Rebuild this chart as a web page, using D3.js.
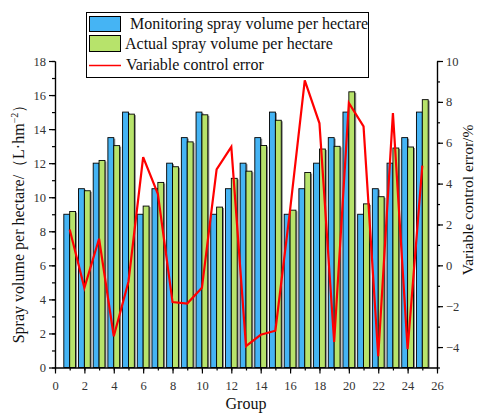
<!DOCTYPE html>
<html><head><meta charset="utf-8">
<script src="https://cdn.jsdelivr.net/npm/d3@7/dist/d3.min.js"></script>
<style>body{margin:0;background:#fff}svg{display:block}
svg text{font-family:"Liberation Serif","Times New Roman",serif !important;}</style>
</head><body>
<svg id="c" width="477" height="413"></svg>
<script>
const groups = d3.range(1, 26);
const monitoring = [9,10.5,12,13.5,15, 9,10.5,12,13.5,15, 9,10.5,12,13.5,15, 9,10.5,12,13.5,15, 9,10.5,12,13.5,15];
const actual = [9.16,10.38,12.16,13.03,14.88, 9.48,10.87,11.79,13.25,14.84, 9.42,11.11,11.53,13.04,14.52, 9.24,11.45,12.83,12.99,16.19, 9.61,10.03,12.89,12.95,15.73];
const errorPct = [1.75,-1.1,1.3,-3.47,-0.8, 5.3,3.5,-1.8,-1.87,-1.1, 4.7,5.8,-3.95,-3.4,-3.2, 2.7,9.05,6.95,-3.75,7.95, 6.8,-4.45,7.45,-4.1,4.88];
const xTicks = d3.range(0, 27, 2);
const yLeftTicks = d3.range(0, 19, 2);
const yRightTicks = d3.range(-4, 11, 2);
const legendLabels = ["Monitoring spray volume per hectare", "Actual spray volume per hectare", "Variable control error"];

const svg = d3.select("#c");
const L = 55, R = 437, T = 61, B = 367.5;
const x = d3.scaleLinear().domain([0, 26]).range([L, R]);
const yL = d3.scaleLinear().domain([0, 18]).range([B, T]);
const yR = d3.scaleLinear().domain([-5, 10]).range([B, T]);
const blue = "#45b4f4", green = "#b7e36b";
const bw = x(0.4) - x(0);

const g = svg.append("g");
g.selectAll(".sb").data(groups).enter().append("rect")
  .attr("x", (d) => x(d - 0.4) + 1.5).attr("y", (d, i) => yL(monitoring[i]) + 1)
  .attr("width", bw).attr("height", (d, i) => B - yL(monitoring[i]) - 1).attr("fill", "#8a8a8a");
g.selectAll(".sg").data(groups).enter().append("rect")
  .attr("x", (d) => x(d) + 1.5).attr("y", (d, i) => yL(actual[i]) + 1)
  .attr("width", bw).attr("height", (d, i) => B - yL(actual[i]) - 1).attr("fill", "#8a8a8a");
g.selectAll(".b").data(groups).enter().append("rect")
  .attr("x", (d) => x(d - 0.4)).attr("y", (d, i) => yL(monitoring[i]))
  .attr("width", bw).attr("height", (d, i) => B - yL(monitoring[i]))
  .attr("fill", blue).attr("stroke", "#000").attr("stroke-width", 0.9);
g.selectAll(".gr").data(groups).enter().append("rect")
  .attr("x", (d) => x(d)).attr("y", (d, i) => yL(actual[i]))
  .attr("width", bw).attr("height", (d, i) => B - yL(actual[i]))
  .attr("fill", green).attr("stroke", "#000").attr("stroke-width", 0.9);

svg.append("path").datum(groups)
  .attr("d", d3.line().x((d) => x(d)).y((d, i) => yR(errorPct[i])))
  .attr("fill", "none").attr("stroke", "#ff0000").attr("stroke-width", 2.2);

function styleAxis(sel) {
  sel.selectAll("path").attr("stroke", "#000").attr("stroke-width", 1.2);
  sel.selectAll("line").attr("stroke", "#000").attr("stroke-width", 1.2);
  sel.selectAll("text").attr("font-size", 12.5).attr("fill", "#333");
}
const ax1 = svg.append("g").attr("transform", `translate(0,${B})`)
  .call(d3.axisBottom(x).tickValues(d3.range(0, 27, 1)).tickSize(3).tickFormat("").tickSizeOuter(0));
styleAxis(ax1);
const ax = svg.append("g").attr("transform", `translate(0,${B})`)
  .call(d3.axisBottom(x).tickValues(xTicks).tickSize(6).tickPadding(8).tickSizeOuter(0).tickFormat(d3.format("d")));
styleAxis(ax);
const ayl1 = svg.append("g").attr("transform", `translate(${L},0)`)
  .call(d3.axisLeft(yL).tickValues(d3.range(0, 19, 1)).tickSize(3).tickFormat("").tickSizeOuter(0));
styleAxis(ayl1);
const ayl = svg.append("g").attr("transform", `translate(${L},0)`)
  .call(d3.axisLeft(yL).tickValues(yLeftTicks).tickSize(6).tickPadding(3).tickSizeOuter(0));
styleAxis(ayl);
const ayr1 = svg.append("g").attr("transform", `translate(${R},0)`)
  .call(d3.axisRight(yR).tickValues(d3.range(-5, 11, 1)).tickSize(3).tickFormat("").tickSizeOuter(0));
styleAxis(ayr1);
const ayr = svg.append("g").attr("transform", `translate(${R},0)`)
  .call(d3.axisRight(yR).tickValues(yRightTicks).tickSize(6).tickPadding(3).tickSizeOuter(0).tickFormat(d3.format("d")));
styleAxis(ayr);

svg.append("text").attr("x", 246).attr("y", 409).attr("text-anchor", "middle")
  .attr("font-size", 16).attr("fill", "#111").text("Group");
const lt = svg.append("text").attr("transform", "translate(24,220) rotate(-90)").attr("text-anchor", "middle")
  .attr("font-size", 16).attr("fill", "#111");
lt.append("tspan").text("Spray volume per hectare/（L·hm");
lt.append("tspan").attr("dy", -6).attr("font-size", 10).text("−2");
lt.append("tspan").attr("dy", 6).text("）");
svg.append("text").attr("transform", "translate(473,200) rotate(-90)").attr("text-anchor", "middle")
  .attr("font-size", 15.5).attr("fill", "#111").text("Variable control error/%");

const lg = svg.append("g");
lg.append("rect").attr("x", 86.5).attr("y", 12.5).attr("width", 282).attr("height", 65)
  .attr("fill", "#fff").attr("stroke", "#000").attr("stroke-width", 1);
lg.append("rect").attr("x", 89.5).attr("y", 16.5).attr("width", 31).attr("height", 15).attr("fill", blue).attr("stroke", "#000");
lg.append("rect").attr("x", 89.5).attr("y", 35.5).attr("width", 31).attr("height", 16).attr("fill", green).attr("stroke", "#000");
lg.append("line").attr("x1", 89).attr("x2", 121).attr("y1", 65.5).attr("y2", 65.5).attr("stroke", "#ff0000").attr("stroke-width", 1.5);
const lx = [130, 125, 126], ly = [29, 49, 70];
legendLabels.forEach((t, i) => {
  lg.append("text").attr("x", lx[i]).attr("y", ly[i]).attr("font-size", 16)
    .attr("fill", "#111").text(t);
});
</script>
</body></html>
